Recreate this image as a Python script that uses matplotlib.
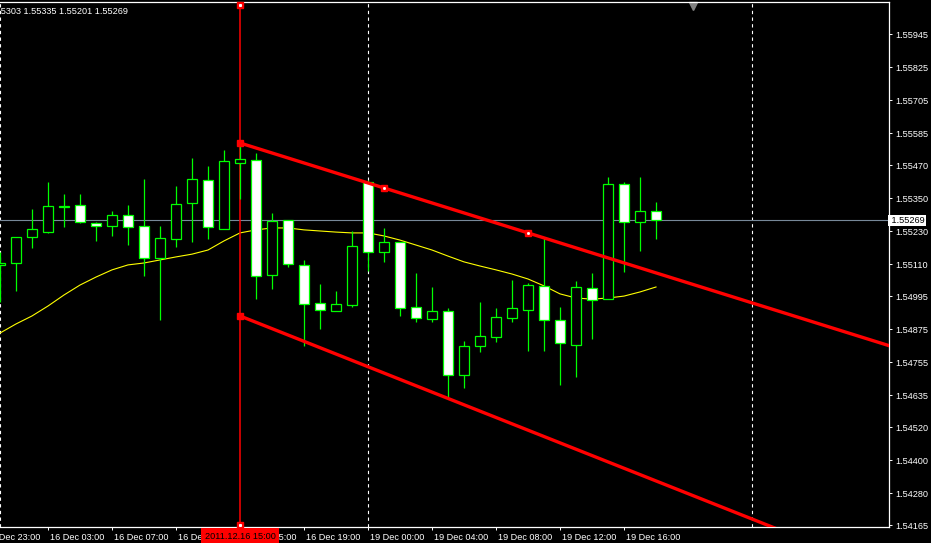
import numpy as np
import matplotlib.pyplot as plt
import matplotlib.transforms as mtransforms
from matplotlib.patches import Rectangle

# GBPUSD H1, bar 0 = 16 Dec 00:00, bar 23 = 19 Dec 00:00 (weekend gap)
opens = [1.55108, 1.55115, 1.55209, 1.55227, 1.55318, 1.55325, 1.55260, 1.55249,
         1.55289, 1.55249, 1.55133, 1.55202, 1.55332, 1.55416, 1.55238, 1.55477,
         1.55488, 1.55071, 1.55271, 1.55108, 1.54970, 1.54941, 1.54963, 1.55409,
         1.55155, 1.55191, 1.54955, 1.54912, 1.54941, 1.54709, 1.54814, 1.54847,
         1.54916, 1.54945, 1.55032, 1.54908, 1.54818, 1.55024, 1.54984, 1.55401,
         1.55264, 1.55303]
highs = [1.55155, 1.55209, 1.55311, 1.55409, 1.55365, 1.55365, 1.55264, 1.55303,
         1.55325, 1.55419, 1.55249, 1.55394, 1.55496, 1.55467, 1.55524, 1.55557,
         1.55514, 1.55296, 1.55271, 1.55126, 1.55039, 1.55013, 1.55231, 1.55416,
         1.55242, 1.55191, 1.55079, 1.55028, 1.54952, 1.54832, 1.54974, 1.54952,
         1.55053, 1.55042, 1.55206, 1.54955, 1.55050, 1.55079, 1.55427, 1.55409,
         1.55427, 1.55335]
lows = [1.54974, 1.55013, 1.55169, 1.55224, 1.55245, 1.55260, 1.55195, 1.55213,
        1.55180, 1.55068, 1.54908, 1.55173, 1.55191, 1.55202, 1.55238, 1.55347,
        1.54984, 1.55021, 1.55100, 1.54814, 1.54876, 1.54941, 1.54955, 1.55086,
        1.55119, 1.54923, 1.54901, 1.54901, 1.54629, 1.54662, 1.54792, 1.54829,
        1.54901, 1.54796, 1.54796, 1.54673, 1.54702, 1.54839, 1.54984, 1.55082,
        1.55158, 1.55201]
closes = [1.55115, 1.55209, 1.55238, 1.55322, 1.55322, 1.55264, 1.55249, 1.55289,
          1.55245, 1.55133, 1.55206, 1.55329, 1.55419, 1.55245, 1.55485, 1.55492,
          1.55068, 1.55267, 1.55111, 1.54966, 1.54945, 1.54966, 1.55177, 1.55155,
          1.55191, 1.54952, 1.54916, 1.54941, 1.54709, 1.54814, 1.54850, 1.54919,
          1.54952, 1.55035, 1.54908, 1.54825, 1.55028, 1.54981, 1.55401, 1.55264,
          1.55303, 1.55269]
ma = [1.54861, 1.54894, 1.54923, 1.54959, 1.54999, 1.55035, 1.55064, 1.55090,
      1.55108, 1.55115, 1.55126, 1.55137, 1.55147, 1.55162, 1.55195, 1.55224,
      1.55235, 1.55242, 1.55242, 1.55235, 1.55231, 1.55227, 1.55224, 1.55224,
      1.55213, 1.55198, 1.55180, 1.55162, 1.55140, 1.55119, 1.55104, 1.55090,
      1.55075, 1.55057, 1.55032, 1.55003, 1.54988, 1.54984, 1.54988, 1.54995,
      1.55010, 1.55028]

bid = 1.55269
header = "1.55303 1.55335 1.55201 1.55269"

price_ticks = [1.55945, 1.55825, 1.55705, 1.55585, 1.55470, 1.55350, 1.55230, 1.55110,
               1.54995, 1.54875, 1.54755, 1.54635, 1.54520, 1.54400, 1.54280, 1.54165]
time_pos = [-1, 3, 7, 11, 15, 19, 23, 27, 31, 35, 39]
time_labels = ["15 Dec 23:00", "16 Dec 03:00", "16 Dec 07:00", "16 Dec 11:00",
               "16 Dec 15:00", "16 Dec 19:00", "19 Dec 00:00", "19 Dec 04:00",
               "19 Dec 08:00", "19 Dec 12:00", "19 Dec 16:00"]
separators = [0, 23, 47]
cursor_bar = 15
cursor_label = "2011.12.16 15:00"

# channel anchors (bar, price); the second line only has its start point marked
upper_pts = [(15, 1.55550), (24, 1.55387), (33, 1.55224)]
lower_pts = [(15, 1.54923), (27, 1.54647)]

GREEN = '#00ff00'
FONT = 'Liberation Sans'
FS = 6.6
W, H = 931, 543

fig = plt.figure(figsize=(W / 100, H / 100), dpi=100, facecolor='black')
ax = fig.add_axes([0, 16 / H, 889 / W, 525 / H], facecolor='black')
ax.set_xlim(0, 889 / 16)
ax.set_ylim(1.54158, 1.56061)

# moving average
ax.plot(np.arange(len(ma)), ma, color='#ffff00', lw=0.8, zorder=2)

# candles
for i, (o, h, l, c) in enumerate(zip(opens, highs, lows, closes)):
    ax.plot([i, i], [l, h], color=GREEN, lw=0.9, zorder=3, solid_capstyle='butt')
    face = 'white' if c < o else 'black'
    ax.add_patch(Rectangle((i - 0.31, min(o, c)), 0.62, max(abs(c - o), 0.00002),
                           facecolor=face, edgecolor=GREEN, lw=0.9, zorder=4))

# period separators
for s in separators:
    ax.axvline(s, color='white', lw=0.8, ls=(0, (3, 3)), zorder=1)

# bid line
ax.axhline(bid, color='#778899', lw=0.8, zorder=1.5)

# channel lines (rays to the right)
xr = 889 / 16 + 1
for pts in (upper_pts, lower_pts):
    (x1, y1), (x2, y2) = pts[0], pts[-1]
    k = (y2 - y1) / (x2 - x1)
    ax.plot([x1, xr], [y1, y1 + k * (xr - x1)], color='red', lw=2.4, zorder=5,
            solid_capstyle='butt')
marks = upper_pts + lower_pts[:1]
ax.plot([p[0] for p in marks], [p[1] for p in marks], ls='none', marker='s', ms=4.2,
        mfc='red', mec='red', zorder=6)
ax.plot([p[0] for p in upper_pts[1:]], [p[1] for p in upper_pts[1:]], ls='none',
        marker='s', ms=1, mfc='white', mec='white', zorder=7)

# cursor vertical line
bt = mtransforms.blended_transform_factory(ax.transData, ax.transAxes)
ax.axvline(cursor_bar, ymin=0.004, ymax=0.994, color='red', lw=1.1, zorder=2.5)
for yy in (0.994, 0.004):
    ax.plot(cursor_bar, yy, transform=bt, marker='s', ms=4.2, mfc='red', mec='red',
            ls='none', zorder=8, clip_on=False)
    ax.plot(cursor_bar, yy, transform=bt, marker='s', ms=1.2, mfc='white', mec='white',
            ls='none', zorder=9, clip_on=False)

# shift marker
ax.plot(693 / 889, 0.993, transform=ax.transAxes, marker='v', ms=6, color='#808080',
        ls='none', clip_on=False)

# spines
for side in ('top', 'right', 'bottom'):
    ax.spines[side].set_color('white')
    ax.spines[side].set_linewidth(0.9)
ax.spines['left'].set_visible(False)

# price axis
ax.yaxis.tick_right()
ax.set_yticks(price_ticks)
ax.set_yticklabels([f"{p:.5f}" for p in price_ticks])
ax.tick_params(axis='y', colors='white', length=2.5, width=0.7, pad=1.8, labelsize=FS)
for t in ax.get_yticklabels():
    t.set_fontfamily(FONT)

# time axis
ax.set_xticks([p for p in time_pos if p >= 0])
ax.set_xticklabels([])
ax.tick_params(axis='x', colors='white', length=2, width=0.7)
off = mtransforms.offset_copy(bt, fig=fig, x=1.5, y=-10, units='dots')
for p, lab in zip(time_pos, time_labels):
    ax.text(p, 0, lab, transform=off, ha='left', va='center', color='white',
            fontsize=FS, family=FONT, clip_on=False)
off2 = mtransforms.offset_copy(bt, fig=fig, x=0, y=-9.5, units='dots')
ax.text(cursor_bar, 0, cursor_label, transform=off2, ha='center', va='center',
        color='black', fontsize=FS, family=FONT, clip_on=False, zorder=10,
        bbox=dict(boxstyle='square,pad=0.4', facecolor='red', edgecolor='none'))

# current price label
ax.text(1.0, bid, " " + f"{bid:.5f}", transform=mtransforms.blended_transform_factory(ax.transAxes, ax.transData),
        ha='left', va='center', color='black', fontsize=FS, family=FONT, clip_on=False,
        bbox=dict(boxstyle='square,pad=0.15', facecolor='white', edgecolor='none'))

# OHLC header
fig.text(-12 / W, 1 - 11 / H, header, ha='left', va='center', color='white',
         fontsize=FS, family=FONT)

fig.savefig('out.png', dpi=100, facecolor='black')
